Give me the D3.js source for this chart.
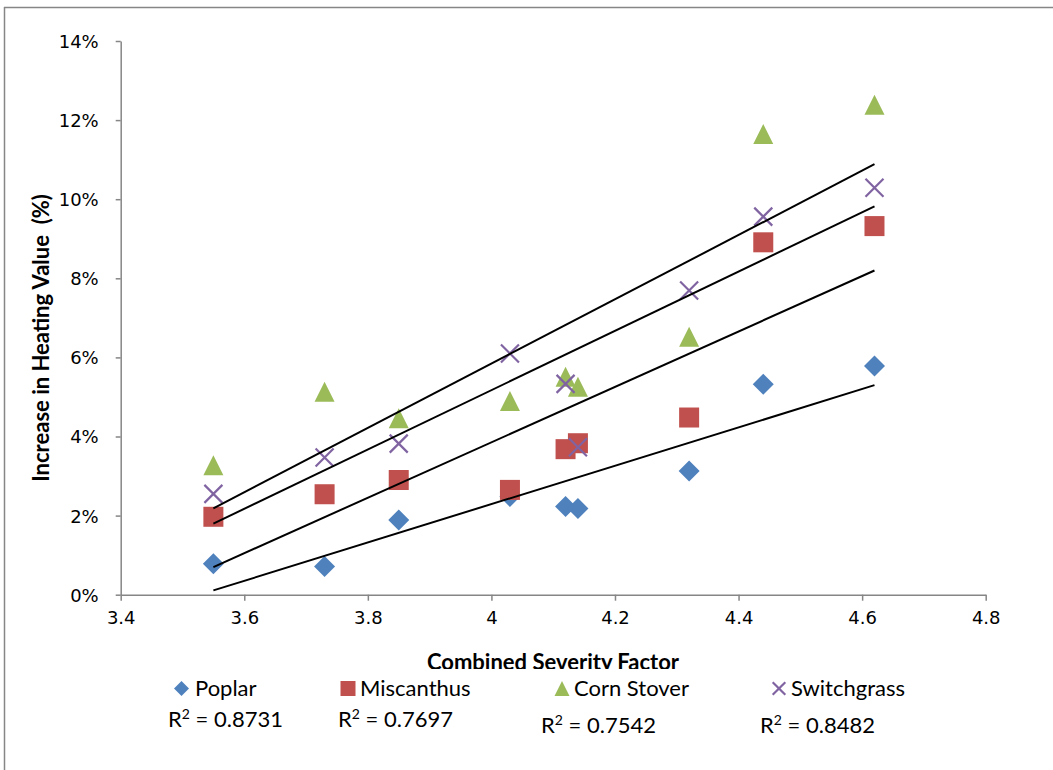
<!DOCTYPE html>
<html><head><meta charset="utf-8">
<script src="https://cdn.jsdelivr.net/npm/d3@7"></script>
<style>
html,body{margin:0;padding:0;background:#fff;}
svg{display:block;}
text{white-space:pre;}
</style>
</head><body>
<svg id="chart" width="1053" height="770"></svg>
<script>
// ---- data ----
const severity = [3.55, 3.73, 3.85, 4.03, 4.12, 4.14, 4.32, 4.44, 4.62];
const poplar = [0.78, 0.71, 1.89, 2.48, 2.23, 2.18, 3.13, 5.32, 5.78];
const miscanthus = [1.97, 2.54, 2.90, 2.65, 3.68, 3.83, 4.48, 8.91, 9.32];
const cornStover = [3.27, 5.13, 4.46, 4.90, 5.51, 5.26, 6.52, 11.65, 12.39];
const switchgrass = [2.55, 3.47, 3.82, 6.10, 5.33, 3.73, 7.69, 9.56, 10.29];
const seriesNames = ["Poplar", "Miscanthus", "Corn Stover", "Switchgrass"];
const rSquared = ["0.8731", "0.7697", "0.7542", "0.8482"];
const xTicks = [3.4, 3.6, 3.8, 4.0, 4.2, 4.4, 4.6, 4.8];
const yTicks = [0, 2, 4, 6, 8, 10, 12, 14];
const xTitle = "Combined Severity Factor";
const yTitle = "Increase in Heating Value  (%)";

const seriesValues = [poplar, miscanthus, cornStover, switchgrass];
const colors = ["#4F81BD", "#C0504D", "#9BBB59", "#8064A2"];
const shapes = ["diamond", "square", "triangle", "x"];

const svg = d3.select("#chart");
const W = 1053, H = 770;
const axisColor = "#868686";

// outer frame
svg.append("line").attr("x1", 4).attr("x2", W).attr("y1", 7.5).attr("y2", 7.5).attr("stroke", axisColor).attr("stroke-width", 1.5);
svg.append("line").attr("x1", 4.5).attr("x2", 4.5).attr("y1", 7).attr("y2", H).attr("stroke", axisColor).attr("stroke-width", 1.5);

const x = d3.scaleLinear().domain([3.4, 4.8]).range([120.7, 985.7]);
const y = d3.scaleLinear().domain([0, 14]).range([594.7, 41]);

// axes
const xAxis = d3.axisBottom(x).tickValues(xTicks).tickSize(6).tickSizeOuter(0)
  .tickFormat(d => d3.format("")(+d.toFixed(1)));
const gx = svg.append("g").attr("transform", `translate(0,${y(0)})`).call(xAxis);
gx.select(".domain").attr("stroke", axisColor).attr("stroke-width", 1.5);
gx.selectAll(".tick line").attr("stroke", axisColor).attr("stroke-width", 1.5);
gx.selectAll(".tick text").attr("fill", "#000").attr("font-family", "DejaVu Sans")
  .attr("font-size", 18).attr("dy", null).attr("y", 29);

const yAxis = d3.axisLeft(y).tickValues(yTicks).tickSize(5).tickSizeOuter(0)
  .tickFormat(d => d + "%");
const gy = svg.append("g").attr("transform", `translate(${x(3.4)},0)`).call(yAxis);
gy.select(".domain").attr("stroke", axisColor).attr("stroke-width", 1.5);
gy.selectAll(".tick line").attr("stroke", axisColor).attr("stroke-width", 1.5);
gy.selectAll(".tick text").attr("fill", "#000").attr("font-family", "DejaVu Sans")
  .attr("font-size", 18).attr("x", -22).attr("dy", "0.36em");

// markers
function drawMarker(g, shape, cx, cy, s, color) {
  if (shape === "diamond") {
    g.append("path").attr("d", `M${cx},${cy - s}L${cx + s},${cy}L${cx},${cy + s}L${cx - s},${cy}Z`).attr("fill", color);
  } else if (shape === "square") {
    g.append("rect").attr("x", cx - s).attr("y", cy - s).attr("width", 2 * s).attr("height", 2 * s).attr("fill", color);
  } else if (shape === "triangle") {
    g.append("path").attr("d", `M${cx},${cy - s}L${cx + s},${cy + s}L${cx - s},${cy + s}Z`).attr("fill", color);
  } else {
    const k = s * 0.9;
    g.append("path").attr("d", `M${cx - k},${cy - k}L${cx + k},${cy + k}M${cx + k},${cy - k}L${cx - k},${cy + k}`)
      .attr("stroke", color).attr("stroke-width", 2.2).attr("fill", "none");
  }
}

const plot = svg.append("g");
seriesValues.forEach((vals, i) => {
  const g = plot.append("g");
  vals.forEach((v, j) => {
    const s = shapes[i] === "diamond" ? 10.5 : 10;
    drawMarker(g, shapes[i], x(severity[j]), y(v), s, colors[i]);
  });
});

// linear trendlines (least squares)
const lines = svg.append("g");
seriesValues.forEach(vals => {
  const mx = d3.mean(severity), my = d3.mean(vals);
  let sxy = 0, sxx = 0;
  severity.forEach((xv, j) => { sxy += (xv - mx) * (vals[j] - my); sxx += (xv - mx) ** 2; });
  const b = sxy / sxx, a = my - b * mx;
  const x0 = d3.min(severity), x1 = d3.max(severity);
  lines.append("line").attr("x1", x(x0)).attr("y1", y(a + b * x0))
    .attr("x2", x(x1)).attr("y2", y(a + b * x1))
    .attr("stroke", "#000").attr("stroke-width", 2);
});

// axis titles
svg.append("text").attr("x", 553).attr("y", 670).attr("text-anchor", "middle")
  .attr("font-family", "Lato").attr("font-weight", "bold").attr("font-size", 22).text(xTitle);
// legend background clips title bottom
svg.append("rect").attr("x", 160).attr("y", 669).attr("width", 760).attr("height", 40).attr("fill", "#fff");

svg.append("text").attr("transform", `translate(49,${338}) rotate(-90)`).attr("text-anchor", "middle")
  .attr("font-family", "Lato").attr("font-weight", "bold").attr("font-size", 22).text(yTitle);

// legend
const legX = [181.5, 348, 562, 779];
const legTextX = [195, 360, 574, 791];
const legend = svg.append("g");
seriesNames.forEach((nm, i) => {
  drawMarker(legend, shapes[i], legX[i], 688.5, shapes[i] === "x" ? 7 : 7.5, colors[i]);
  legend.append("text").attr("x", legTextX[i]).attr("y", 695.5).attr("font-family", "Lato")
    .attr("font-size", 22).attr("fill", "#000").text(nm);
});

// R² labels
const rX = [168, 338, 541, 760];
const rY = [727, 727, 733, 733];
rSquared.forEach((r, i) => {
  const t = svg.append("text").attr("x", rX[i]).attr("y", rY[i]).attr("font-family", "Lato")
    .attr("font-size", 22).attr("fill", "#000");
  t.append("tspan").text("R");
  t.append("tspan").attr("font-size", 14).attr("dy", -8).text("2");
  t.append("tspan").attr("dy", 8).text(" = " + r);
});
</script>
</body></html>
